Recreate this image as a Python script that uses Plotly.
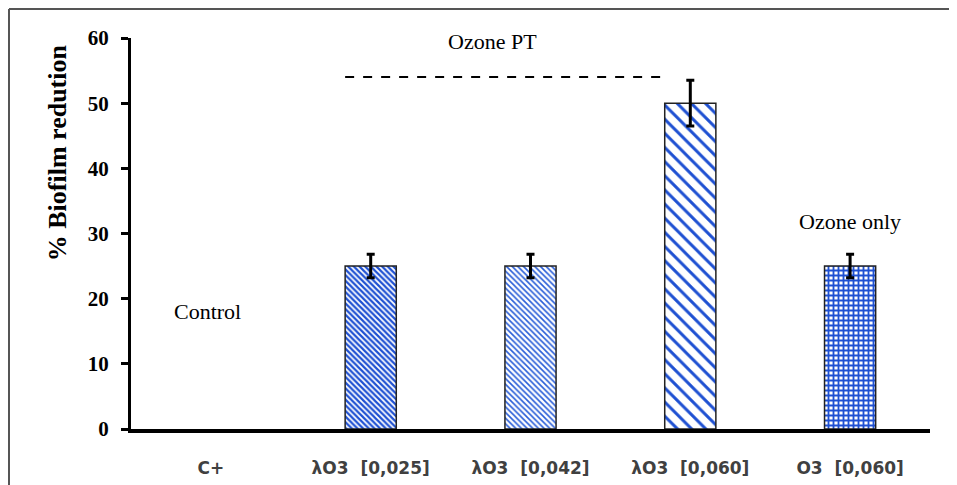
import plotly.graph_objects as go

categories = ["C+", "λO3\u00a0 [0,025]", "λO3\u00a0 [0,042]", "λO3\u00a0 [0,060]", "O3\u00a0 [0,060]"]
values = [0, 25, 25, 50, 25]
errors = [0, 1.8, 1.8, 3.5, 1.8]
pattern_shapes = ["", "\\", "\\", "\\", "+"]
pattern_sizes = [4, 4, 4, 10, 5]
pattern_solidity = [0.5, 0.55, 0.4, 0.3, 0.6]
pattern_fg = ["#1e50d2", "#1e50d2", "#2a5ed8", "#1e50d2", "#1e50d2"]
outline_widths = [0, 1.5, 1.5, 1.5, 1.5]

y_ticks = [0, 10, 20, 30, 40, 50, 60]

group_label = "Ozone PT"
group_line_x = [0.84, 2.84]
group_line_y = 54
group_label_pos = (1.76, 59.4)
control_label = "Control"
control_pos = (-0.02, 18)
only_label = "Ozone only"
only_pos = (4.0, 31.8)

fig = go.Figure()
fig.add_trace(go.Bar(
    x=categories, y=values, width=0.32,
    marker=dict(
        color="white",
        line=dict(color="#222222", width=outline_widths),
        pattern=dict(shape=pattern_shapes, size=pattern_sizes,
                     solidity=pattern_solidity, fgcolor=pattern_fg,
                     bgcolor="white", fgopacity=1, fillmode="replace"),
    ),
    showlegend=False,
))

# error bars only where an error exists
err_idx = [i for i, e in enumerate(errors) if e > 0]
fig.add_trace(go.Scatter(
    x=[categories[i] for i in err_idx], y=[values[i] for i in err_idx],
    mode="markers", marker=dict(size=1, opacity=0),
    error_y=dict(type="data", array=[errors[i] for i in err_idx], color="black",
                 thickness=3, width=4, visible=True),
    showlegend=False, hoverinfo="skip",
))

# grouping dashed line
fig.add_shape(type="line", xref="x", yref="y",
              x0=group_line_x[0], x1=group_line_x[1], y0=group_line_y, y1=group_line_y,
              line=dict(color="black", width=2, dash="dash"))

serif = "Liberation Serif"
fig.add_annotation(x=group_label_pos[0], y=group_label_pos[1], text=group_label,
                   showarrow=False, font=dict(family=serif, size=22, color="black"))
fig.add_annotation(x=control_pos[0], y=control_pos[1], text=control_label,
                   showarrow=False, font=dict(family=serif, size=22, color="black"))
fig.add_annotation(x=only_pos[0], y=only_pos[1], text=only_label,
                   showarrow=False, font=dict(family=serif, size=22, color="black"))

# y axis title
fig.add_annotation(xref="paper", yref="paper", x=-0.091, y=0.706,
                   xanchor="center", yanchor="middle",
                   text="<b>% Biofilm redution</b>", textangle=-90, showarrow=False,
                   font=dict(family=serif, size=26, color="black"))

# figure frame (top and left)
fig.add_shape(type="line", xref="paper", yref="paper", x0=-0.1527, x1=1.1, y0=1.0742, y1=1.0742,
              line=dict(color="#555555", width=2))
fig.add_shape(type="line", xref="paper", yref="paper", x0=-0.1527, x1=-0.1527, y0=1.0742, y1=-0.2,
              line=dict(color="#555555", width=2))

fig.update_layout(
    width=957, height=485,
    margin=dict(l=123, r=35, t=30, b=64),
    paper_bgcolor="white", plot_bgcolor="white",
    xaxis=dict(
        range=[-0.5, 4.5], showgrid=False, showline=True, linecolor="black", linewidth=4,
        ticks="", ticklabelstandoff=21,
        tickfont=dict(family="DejaVu Sans", size=17, color="#404040", weight="bold"),
    ),
    yaxis=dict(
        range=[0, 60], tickvals=y_ticks, showgrid=False, zeroline=False,
        showline=True, linecolor="black", linewidth=3,
        ticks="outside", ticklen=7, tickwidth=3, tickcolor="black",
        ticklabelstandoff=8,
        tickfont=dict(family=serif, size=21, color="black", weight="bold"),
    ),
)

fig.write_html("out.html")
